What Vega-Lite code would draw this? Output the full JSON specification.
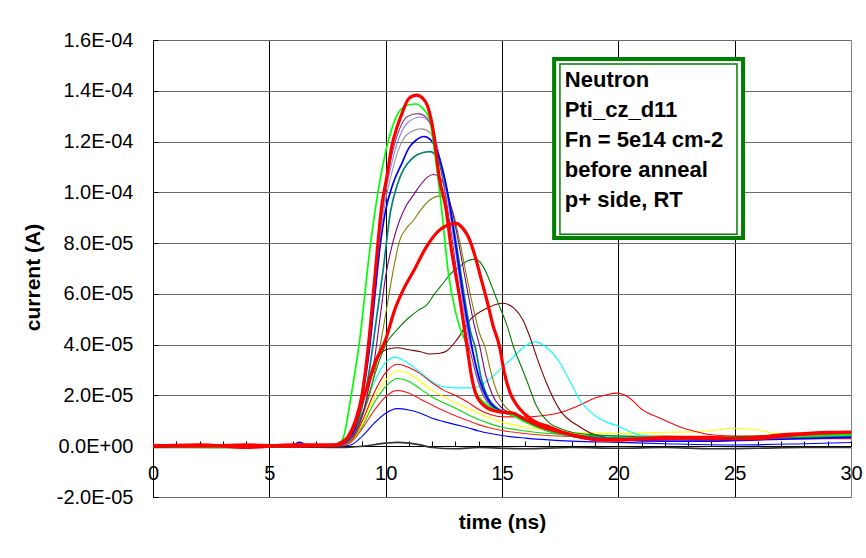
{
"$schema": "https://vega.github.io/schema/vega-lite/v6.json",
"width": 698, "height": 457,
"autosize": {"type": "none"},
"padding": {"left": 153, "top": 40, "right": 15, "bottom": 61},
"background": "white",
"config": {"view": {"stroke": "#808080", "strokeWidth": 1}, "font": "Liberation Sans"},
"resolve": {"axis": {"x": "independent", "y": "independent"}},
"datasets": {"curves": [
{"s":"k","t":0,"v":-0.05e-5},{"s":"k","t":3,"v":-0.05e-5},{"s":"k","t":6,"v":-0.03e-5},{"s":"k","t":8,"v":-0.05e-5},{"s":"k","t":9,"v":0},{"s":"k","t":10,"v":0.12e-5},{"s":"k","t":10.5,"v":0.15e-5},{"s":"k","t":11,"v":0.12e-5},{"s":"k","t":11.5,"v":0.05e-5},{"s":"k","t":12,"v":-0.05e-5},{"s":"k","t":13,"v":-0.1e-5},{"s":"k","t":14,"v":-0.05e-5},{"s":"k","t":15,"v":-0.08e-5},{"s":"k","t":16,"v":-0.1e-5},{"s":"k","t":18,"v":-0.05e-5},{"s":"k","t":20,"v":-0.08e-5},{"s":"k","t":22,"v":-0.05e-5},{"s":"k","t":24,"v":-0.1e-5},{"s":"k","t":26,"v":-0.08e-5},{"s":"k","t":28,"v":-0.05e-5},{"s":"k","t":30,"v":-0.05e-5},
{"s":"b2","t":0,"v":0},{"s":"b2","t":4,"v":0},{"s":"b2","t":6,"v":0.05e-5},{"s":"b2","t":8,"v":0},{"s":"b2","t":8.5,"v":0.05e-5},{"s":"b2","t":9,"v":0.4e-5},{"s":"b2","t":9.5,"v":0.9e-5},{"s":"b2","t":10,"v":1.3e-5},{"s":"b2","t":10.5,"v":1.48e-5},{"s":"b2","t":11,"v":1.43e-5},{"s":"b2","t":11.5,"v":1.3e-5},{"s":"b2","t":12,"v":1.1e-5},{"s":"b2","t":12.5,"v":0.97e-5},{"s":"b2","t":13,"v":0.85e-5},{"s":"b2","t":13.5,"v":0.74e-5},{"s":"b2","t":14,"v":0.6e-5},{"s":"b2","t":14.5,"v":0.5e-5},{"s":"b2","t":15,"v":0.42e-5},{"s":"b2","t":16,"v":0.32e-5},{"s":"b2","t":17,"v":0.25e-5},{"s":"b2","t":18,"v":0.2e-5},{"s":"b2","t":20,"v":0.15e-5},{"s":"b2","t":22,"v":0.1e-5},{"s":"b2","t":25,"v":0.05e-5},{"s":"b2","t":28,"v":0.1e-5},{"s":"b2","t":30,"v":0.15e-5},
{"s":"r4","t":0,"v":-0.05e-5},{"s":"r4","t":4,"v":0},{"s":"r4","t":8,"v":0},{"s":"r4","t":8.5,"v":0.15e-5},{"s":"r4","t":9,"v":0.7e-5},{"s":"r4","t":9.5,"v":1.4e-5},{"s":"r4","t":10,"v":1.95e-5},{"s":"r4","t":10.5,"v":2.2e-5},{"s":"r4","t":11,"v":2.1e-5},{"s":"r4","t":11.5,"v":1.85e-5},{"s":"r4","t":12,"v":1.62e-5},{"s":"r4","t":12.5,"v":1.4e-5},{"s":"r4","t":13,"v":1.2e-5},{"s":"r4","t":13.5,"v":1.02e-5},{"s":"r4","t":14,"v":0.85e-5},{"s":"r4","t":14.5,"v":0.72e-5},{"s":"r4","t":15,"v":0.62e-5},{"s":"r4","t":16,"v":0.5e-5},{"s":"r4","t":17,"v":0.42e-5},{"s":"r4","t":18,"v":0.38e-5},{"s":"r4","t":20,"v":0.3e-5},{"s":"r4","t":22,"v":0.28e-5},{"s":"r4","t":24,"v":0.25e-5},{"s":"r4","t":26,"v":0.3e-5},{"s":"r4","t":28,"v":0.3e-5},{"s":"r4","t":30,"v":0.3e-5},
{"s":"g3","t":0,"v":-0.03e-5},{"s":"g3","t":4,"v":0},{"s":"g3","t":7.8,"v":0},{"s":"g3","t":8.1,"v":0.05e-5},{"s":"g3","t":8.5,"v":0.2e-5},{"s":"g3","t":9,"v":0.8e-5},{"s":"g3","t":9.5,"v":1.7e-5},{"s":"g3","t":10,"v":2.35e-5},{"s":"g3","t":10.5,"v":2.67e-5},{"s":"g3","t":11,"v":2.55e-5},{"s":"g3","t":11.5,"v":2.25e-5},{"s":"g3","t":12,"v":1.94e-5},{"s":"g3","t":12.5,"v":1.7e-5},{"s":"g3","t":13,"v":1.5e-5},{"s":"g3","t":13.5,"v":1.26e-5},{"s":"g3","t":14,"v":1.05e-5},{"s":"g3","t":14.5,"v":0.88e-5},{"s":"g3","t":15,"v":0.75e-5},{"s":"g3","t":16,"v":0.6e-5},{"s":"g3","t":17,"v":0.5e-5},{"s":"g3","t":18,"v":0.45e-5},{"s":"g3","t":20,"v":0.4e-5},{"s":"g3","t":22,"v":0.4e-5},{"s":"g3","t":24,"v":0.35e-5},{"s":"g3","t":26,"v":0.35e-5},{"s":"g3","t":28,"v":0.4e-5},{"s":"g3","t":30,"v":0.45e-5},
{"s":"y","t":0,"v":-0.05e-5},{"s":"y","t":4,"v":-0.05e-5},{"s":"y","t":7.8,"v":0},{"s":"y","t":8.1,"v":0.05e-5},{"s":"y","t":8.5,"v":0.2e-5},{"s":"y","t":9,"v":0.9e-5},{"s":"y","t":9.5,"v":1.9e-5},{"s":"y","t":10,"v":2.6e-5},{"s":"y","t":10.5,"v":2.97e-5},{"s":"y","t":11,"v":2.85e-5},{"s":"y","t":11.5,"v":2.55e-5},{"s":"y","t":12,"v":2.2e-5},{"s":"y","t":12.5,"v":1.95e-5},{"s":"y","t":13,"v":1.7e-5},{"s":"y","t":13.5,"v":1.5e-5},{"s":"y","t":14,"v":1.3e-5},{"s":"y","t":14.5,"v":1.1e-5},{"s":"y","t":15,"v":0.95e-5},{"s":"y","t":16,"v":0.75e-5},{"s":"y","t":17,"v":0.62e-5},{"s":"y","t":18,"v":0.55e-5},{"s":"y","t":19,"v":0.52e-5},{"s":"y","t":20,"v":0.5e-5},{"s":"y","t":21,"v":0.52e-5},{"s":"y","t":22,"v":0.55e-5},{"s":"y","t":23,"v":0.56e-5},{"s":"y","t":24,"v":0.62e-5},{"s":"y","t":25,"v":0.71e-5},{"s":"y","t":26,"v":0.65e-5},{"s":"y","t":26.6,"v":0.52e-5},{"s":"y","t":27.5,"v":0.45e-5},{"s":"y","t":28.5,"v":0.45e-5},{"s":"y","t":30,"v":0.5e-5},
{"s":"r3","t":0,"v":0},{"s":"r3","t":4,"v":0.03e-5},{"s":"r3","t":7.8,"v":0},{"s":"r3","t":8.1,"v":0.05e-5},{"s":"r3","t":8.5,"v":0.2e-5},{"s":"r3","t":9,"v":1.0e-5},{"s":"r3","t":9.5,"v":2.1e-5},{"s":"r3","t":10,"v":2.9e-5},{"s":"r3","t":10.5,"v":3.23e-5},{"s":"r3","t":11,"v":3.1e-5},{"s":"r3","t":11.5,"v":2.85e-5},{"s":"r3","t":12,"v":2.5e-5},{"s":"r3","t":12.5,"v":2.2e-5},{"s":"r3","t":13,"v":2.0e-5},{"s":"r3","t":13.5,"v":1.75e-5},{"s":"r3","t":14,"v":1.45e-5},{"s":"r3","t":14.5,"v":1.25e-5},{"s":"r3","t":15,"v":1.16e-5},{"s":"r3","t":16,"v":1.15e-5},{"s":"r3","t":16.9,"v":1.22e-5},{"s":"r3","t":17.6,"v":1.35e-5},{"s":"r3","t":18.35,"v":1.62e-5},{"s":"r3","t":19,"v":1.9e-5},{"s":"r3","t":19.5,"v":2.03e-5},{"s":"r3","t":19.93,"v":2.09e-5},{"s":"r3","t":20.4,"v":1.95e-5},{"s":"r3","t":21.06,"v":1.42e-5},{"s":"r3","t":21.8,"v":1.1e-5},{"s":"r3","t":22.65,"v":0.76e-5},{"s":"r3","t":23.4,"v":0.56e-5},{"s":"r3","t":24,"v":0.45e-5},{"s":"r3","t":25,"v":0.4e-5},{"s":"r3","t":26,"v":0.4e-5},{"s":"r3","t":27,"v":0.38e-5},{"s":"r3","t":28,"v":0.35e-5},{"s":"r3","t":30,"v":0.35e-5},
{"s":"c","t":0,"v":0},{"s":"c","t":4,"v":0},{"s":"c","t":7.8,"v":0},{"s":"c","t":8.1,"v":0.05e-5},{"s":"c","t":8.5,"v":0.3e-5},{"s":"c","t":9,"v":1.3e-5},{"s":"c","t":9.5,"v":2.5e-5},{"s":"c","t":10,"v":3.3e-5},{"s":"c","t":10.4,"v":3.5e-5},{"s":"c","t":11,"v":3.25e-5},{"s":"c","t":11.5,"v":2.9e-5},{"s":"c","t":12,"v":2.55e-5},{"s":"c","t":12.46,"v":2.34e-5},{"s":"c","t":13,"v":2.3e-5},{"s":"c","t":13.5,"v":2.3e-5},{"s":"c","t":13.9,"v":2.32e-5},{"s":"c","t":14.4,"v":2.6e-5},{"s":"c","t":14.9,"v":3.0e-5},{"s":"c","t":15.47,"v":3.5e-5},{"s":"c","t":16,"v":3.95e-5},{"s":"c","t":16.42,"v":4.11e-5},{"s":"c","t":16.9,"v":3.9e-5},{"s":"c","t":17.5,"v":3.27e-5},{"s":"c","t":17.9,"v":2.6e-5},{"s":"c","t":18.35,"v":1.81e-5},{"s":"c","t":19.07,"v":1.16e-5},{"s":"c","t":20.07,"v":0.76e-5},{"s":"c","t":20.8,"v":0.47e-5},{"s":"c","t":21.5,"v":0.38e-5},{"s":"c","t":22,"v":0.35e-5},{"s":"c","t":24,"v":0.32e-5},{"s":"c","t":26,"v":0.3e-5},{"s":"c","t":28,"v":0.35e-5},{"s":"c","t":30,"v":0.4e-5},
{"s":"m","t":0,"v":0},{"s":"m","t":4,"v":0},{"s":"m","t":7.8,"v":0},{"s":"m","t":8.1,"v":0.05e-5},{"s":"m","t":8.5,"v":0.4e-5},{"s":"m","t":9,"v":1.8e-5},{"s":"m","t":9.5,"v":3.0e-5},{"s":"m","t":9.75,"v":3.6e-5},{"s":"m","t":10,"v":3.8e-5},{"s":"m","t":10.5,"v":3.88e-5},{"s":"m","t":11,"v":3.8e-5},{"s":"m","t":11.5,"v":3.72e-5},{"s":"m","t":11.9,"v":3.63e-5},{"s":"m","t":12.33,"v":3.66e-5},{"s":"m","t":12.62,"v":3.75e-5},{"s":"m","t":13.05,"v":4.18e-5},{"s":"m","t":13.62,"v":4.97e-5},{"s":"m","t":14.34,"v":5.43e-5},{"s":"m","t":15.04,"v":5.63e-5},{"s":"m","t":15.5,"v":5.45e-5},{"s":"m","t":15.9,"v":4.97e-5},{"s":"m","t":16.2,"v":4.3e-5},{"s":"m","t":16.49,"v":3.52e-5},{"s":"m","t":16.92,"v":2.47e-5},{"s":"m","t":17.49,"v":1.42e-5},{"s":"m","t":18.35,"v":0.76e-5},{"s":"m","t":19.07,"v":0.43e-5},{"s":"m","t":20,"v":0.3e-5},{"s":"m","t":22,"v":0.3e-5},{"s":"m","t":24,"v":0.28e-5},{"s":"m","t":26,"v":0.3e-5},{"s":"m","t":28,"v":0.35e-5},{"s":"m","t":30,"v":0.4e-5},
{"s":"g2","t":0,"v":0},{"s":"g2","t":4,"v":0},{"s":"g2","t":7.8,"v":0},{"s":"g2","t":8.1,"v":0.05e-5},{"s":"g2","t":8.4,"v":0.25e-5},{"s":"g2","t":8.75,"v":0.76e-5},{"s":"g2","t":9,"v":1.3e-5},{"s":"g2","t":9.33,"v":2.2e-5},{"s":"g2","t":9.7,"v":3.3e-5},{"s":"g2","t":10,"v":4.0e-5},{"s":"g2","t":10.5,"v":4.6e-5},{"s":"g2","t":11.04,"v":5.1e-5},{"s":"g2","t":11.4,"v":5.35e-5},{"s":"g2","t":11.76,"v":5.56e-5},{"s":"g2","t":12.1,"v":6.0e-5},{"s":"g2","t":12.47,"v":6.42e-5},{"s":"g2","t":12.8,"v":6.8e-5},{"s":"g2","t":13.19,"v":7.07e-5},{"s":"g2","t":13.5,"v":7.3e-5},{"s":"g2","t":13.84,"v":7.37e-5},{"s":"g2","t":14.1,"v":7.2e-5},{"s":"g2","t":14.34,"v":6.8e-5},{"s":"g2","t":14.6,"v":6.2e-5},{"s":"g2","t":14.9,"v":5.49e-5},{"s":"g2","t":15.2,"v":4.8e-5},{"s":"g2","t":15.5,"v":3.9e-5},{"s":"g2","t":15.8,"v":3.2e-5},{"s":"g2","t":16.06,"v":2.6e-5},{"s":"g2","t":16.5,"v":1.55e-5},{"s":"g2","t":17.06,"v":0.9e-5},{"s":"g2","t":17.5,"v":0.7e-5},{"s":"g2","t":18,"v":0.55e-5},{"s":"g2","t":19,"v":0.45e-5},{"s":"g2","t":20,"v":0.4e-5},{"s":"g2","t":22,"v":0.35e-5},{"s":"g2","t":24,"v":0.35e-5},{"s":"g2","t":26,"v":0.4e-5},{"s":"g2","t":28,"v":0.45e-5},{"s":"g2","t":30,"v":0.5e-5},
{"s":"o","t":0,"v":0},{"s":"o","t":4,"v":-0.03e-5},{"s":"o","t":7.8,"v":0},{"s":"o","t":8.1,"v":0.05e-5},{"s":"o","t":8.4,"v":0.15e-5},{"s":"o","t":8.7,"v":0.5e-5},{"s":"o","t":9,"v":1.2e-5},{"s":"o","t":9.3,"v":2.0e-5},{"s":"o","t":9.5,"v":2.8e-5},{"s":"o","t":9.75,"v":3.9e-5},{"s":"o","t":10,"v":5.2e-5},{"s":"o","t":10.3,"v":6.8e-5},{"s":"o","t":10.6,"v":8.1e-5},{"s":"o","t":10.9,"v":8.6e-5},{"s":"o","t":11.2,"v":8.9e-5},{"s":"o","t":11.5,"v":9.3e-5},{"s":"o","t":11.9,"v":9.7e-5},{"s":"o","t":12.3,"v":9.85e-5},{"s":"o","t":12.6,"v":9.8e-5},{"s":"o","t":12.9,"v":9.2e-5},{"s":"o","t":13.2,"v":8.0e-5},{"s":"o","t":13.5,"v":6.6e-5},{"s":"o","t":13.8,"v":5.3e-5},{"s":"o","t":14.05,"v":4.4e-5},{"s":"o","t":14.27,"v":3.9e-5},{"s":"o","t":14.5,"v":3.0e-5},{"s":"o","t":14.8,"v":2.1e-5},{"s":"o","t":15.1,"v":1.6e-5},{"s":"o","t":15.4,"v":1.35e-5},{"s":"o","t":15.8,"v":1.2e-5},{"s":"o","t":16.3,"v":0.95e-5},{"s":"o","t":17,"v":0.7e-5},{"s":"o","t":18,"v":0.45e-5},{"s":"o","t":19,"v":0.35e-5},{"s":"o","t":20,"v":0.3e-5},{"s":"o","t":22,"v":0.3e-5},{"s":"o","t":24,"v":0.32e-5},{"s":"o","t":26,"v":0.3e-5},{"s":"o","t":28,"v":0.35e-5},{"s":"o","t":30,"v":0.4e-5},
{"s":"p2","t":0,"v":0},{"s":"p2","t":4,"v":0},{"s":"p2","t":7.8,"v":0},{"s":"p2","t":8.1,"v":0.05e-5},{"s":"p2","t":8.4,"v":0.2e-5},{"s":"p2","t":8.7,"v":0.55e-5},{"s":"p2","t":9,"v":1.2e-5},{"s":"p2","t":9.25,"v":2.2e-5},{"s":"p2","t":9.5,"v":3.3e-5},{"s":"p2","t":9.75,"v":5.0e-5},{"s":"p2","t":10,"v":6.7e-5},{"s":"p2","t":10.3,"v":8.0e-5},{"s":"p2","t":10.6,"v":8.9e-5},{"s":"p2","t":10.9,"v":9.5e-5},{"s":"p2","t":11.2,"v":9.9e-5},{"s":"p2","t":11.5,"v":10.3e-5},{"s":"p2","t":11.8,"v":10.6e-5},{"s":"p2","t":12.05,"v":10.7e-5},{"s":"p2","t":12.3,"v":10.6e-5},{"s":"p2","t":12.6,"v":10.1e-5},{"s":"p2","t":12.9,"v":9.1e-5},{"s":"p2","t":13.2,"v":7.7e-5},{"s":"p2","t":13.5,"v":6.2e-5},{"s":"p2","t":13.8,"v":4.8e-5},{"s":"p2","t":14.05,"v":3.9e-5},{"s":"p2","t":14.3,"v":2.8e-5},{"s":"p2","t":14.6,"v":2.0e-5},{"s":"p2","t":15,"v":1.5e-5},{"s":"p2","t":15.4,"v":1.3e-5},{"s":"p2","t":15.8,"v":1.15e-5},{"s":"p2","t":16.3,"v":0.95e-5},{"s":"p2","t":17,"v":0.68e-5},{"s":"p2","t":18,"v":0.45e-5},{"s":"p2","t":20,"v":0.32e-5},{"s":"p2","t":22,"v":0.3e-5},{"s":"p2","t":24,"v":0.3e-5},{"s":"p2","t":26,"v":0.32e-5},{"s":"p2","t":28,"v":0.4e-5},{"s":"p2","t":30,"v":0.45e-5},
{"s":"tl","t":0,"v":0},{"s":"tl","t":4,"v":0},{"s":"tl","t":7.8,"v":0},{"s":"tl","t":8.1,"v":0.08e-5},{"s":"tl","t":8.4,"v":0.25e-5},{"s":"tl","t":8.7,"v":0.7e-5},{"s":"tl","t":9,"v":1.6e-5},{"s":"tl","t":9.3,"v":3.0e-5},{"s":"tl","t":9.6,"v":5.0e-5},{"s":"tl","t":9.9,"v":7.0e-5},{"s":"tl","t":10.2,"v":9.2e-5},{"s":"tl","t":10.5,"v":10.3e-5},{"s":"tl","t":10.8,"v":10.95e-5},{"s":"tl","t":11.1,"v":11.3e-5},{"s":"tl","t":11.4,"v":11.5e-5},{"s":"tl","t":11.9,"v":11.6e-5},{"s":"tl","t":12.2,"v":11.4e-5},{"s":"tl","t":12.5,"v":10.6e-5},{"s":"tl","t":12.8,"v":9.3e-5},{"s":"tl","t":13.1,"v":7.6e-5},{"s":"tl","t":13.4,"v":5.8e-5},{"s":"tl","t":13.65,"v":4.5e-5},{"s":"tl","t":13.85,"v":3.9e-5},{"s":"tl","t":14.1,"v":2.7e-5},{"s":"tl","t":14.4,"v":1.9e-5},{"s":"tl","t":14.8,"v":1.5e-5},{"s":"tl","t":15.2,"v":1.3e-5},{"s":"tl","t":15.6,"v":1.2e-5},{"s":"tl","t":16,"v":1.02e-5},{"s":"tl","t":17,"v":0.65e-5},{"s":"tl","t":18,"v":0.45e-5},{"s":"tl","t":20,"v":0.32e-5},{"s":"tl","t":22,"v":0.3e-5},{"s":"tl","t":24,"v":0.3e-5},{"s":"tl","t":26,"v":0.32e-5},{"s":"tl","t":28,"v":0.38e-5},{"s":"tl","t":30,"v":0.42e-5},
{"s":"gr","t":0,"v":0},{"s":"gr","t":4,"v":0},{"s":"gr","t":7.8,"v":0},{"s":"gr","t":8.1,"v":0.1e-5},{"s":"gr","t":8.4,"v":0.3e-5},{"s":"gr","t":8.7,"v":0.8e-5},{"s":"gr","t":9,"v":2.1e-5},{"s":"gr","t":9.3,"v":4.0e-5},{"s":"gr","t":9.5,"v":5.9e-5},{"s":"gr","t":9.75,"v":8.2e-5},{"s":"gr","t":10,"v":9.7e-5},{"s":"gr","t":10.3,"v":10.9e-5},{"s":"gr","t":10.6,"v":11.8e-5},{"s":"gr","t":10.95,"v":12.3e-5},{"s":"gr","t":11.55,"v":12.5e-5},{"s":"gr","t":11.9,"v":12.35e-5},{"s":"gr","t":12.2,"v":11.8e-5},{"s":"gr","t":12.45,"v":10.8e-5},{"s":"gr","t":12.7,"v":9.6e-5},{"s":"gr","t":13,"v":7.8e-5},{"s":"gr","t":13.3,"v":5.9e-5},{"s":"gr","t":13.6,"v":4.2e-5},{"s":"gr","t":13.8,"v":3.5e-5},{"s":"gr","t":14,"v":2.6e-5},{"s":"gr","t":14.3,"v":1.9e-5},{"s":"gr","t":14.6,"v":1.55e-5},{"s":"gr","t":15,"v":1.35e-5},{"s":"gr","t":15.5,"v":1.2e-5},{"s":"gr","t":16,"v":0.97e-5},{"s":"gr","t":17,"v":0.6e-5},{"s":"gr","t":18,"v":0.4e-5},{"s":"gr","t":20,"v":0.3e-5},{"s":"gr","t":22,"v":0.28e-5},{"s":"gr","t":24,"v":0.3e-5},{"s":"gr","t":26,"v":0.3e-5},{"s":"gr","t":28,"v":0.35e-5},{"s":"gr","t":30,"v":0.4e-5},
{"s":"lv","t":0,"v":0},{"s":"lv","t":4,"v":0.03e-5},{"s":"lv","t":7.8,"v":0},{"s":"lv","t":8.1,"v":0.1e-5},{"s":"lv","t":8.4,"v":0.33e-5},{"s":"lv","t":8.7,"v":0.85e-5},{"s":"lv","t":9,"v":2.2e-5},{"s":"lv","t":9.3,"v":4.2e-5},{"s":"lv","t":9.5,"v":6.1e-5},{"s":"lv","t":9.75,"v":8.4e-5},{"s":"lv","t":10,"v":10.0e-5},{"s":"lv","t":10.3,"v":11.3e-5},{"s":"lv","t":10.6,"v":12.2e-5},{"s":"lv","t":10.95,"v":12.75e-5},{"s":"lv","t":11.5,"v":12.97e-5},{"s":"lv","t":11.85,"v":12.8e-5},{"s":"lv","t":12.15,"v":12.1e-5},{"s":"lv","t":12.4,"v":11.0e-5},{"s":"lv","t":12.65,"v":9.8e-5},{"s":"lv","t":12.95,"v":8.0e-5},{"s":"lv","t":13.25,"v":6.1e-5},{"s":"lv","t":13.55,"v":4.3e-5},{"s":"lv","t":13.75,"v":3.6e-5},{"s":"lv","t":14,"v":2.6e-5},{"s":"lv","t":14.3,"v":1.9e-5},{"s":"lv","t":14.6,"v":1.55e-5},{"s":"lv","t":15,"v":1.35e-5},{"s":"lv","t":15.5,"v":1.22e-5},{"s":"lv","t":16,"v":0.98e-5},{"s":"lv","t":17,"v":0.62e-5},{"s":"lv","t":18,"v":0.42e-5},{"s":"lv","t":20,"v":0.32e-5},{"s":"lv","t":22,"v":0.3e-5},{"s":"lv","t":24,"v":0.3e-5},{"s":"lv","t":26,"v":0.32e-5},{"s":"lv","t":28,"v":0.4e-5},{"s":"lv","t":30,"v":0.45e-5},
{"s":"p1","t":0,"v":0},{"s":"p1","t":4,"v":0},{"s":"p1","t":7.8,"v":0},{"s":"p1","t":8.1,"v":0.1e-5},{"s":"p1","t":8.4,"v":0.35e-5},{"s":"p1","t":8.7,"v":0.9e-5},{"s":"p1","t":9,"v":2.3e-5},{"s":"p1","t":9.3,"v":4.4e-5},{"s":"p1","t":9.5,"v":6.3e-5},{"s":"p1","t":9.75,"v":8.6e-5},{"s":"p1","t":10,"v":10.2e-5},{"s":"p1","t":10.3,"v":11.6e-5},{"s":"p1","t":10.6,"v":12.5e-5},{"s":"p1","t":10.95,"v":13.0e-5},{"s":"p1","t":11.4,"v":13.1e-5},{"s":"p1","t":11.75,"v":12.95e-5},{"s":"p1","t":12.05,"v":12.3e-5},{"s":"p1","t":12.3,"v":11.2e-5},{"s":"p1","t":12.55,"v":10.0e-5},{"s":"p1","t":12.85,"v":8.2e-5},{"s":"p1","t":13.15,"v":6.2e-5},{"s":"p1","t":13.45,"v":4.4e-5},{"s":"p1","t":13.7,"v":3.5e-5},{"s":"p1","t":13.95,"v":2.6e-5},{"s":"p1","t":14.25,"v":1.9e-5},{"s":"p1","t":14.6,"v":1.55e-5},{"s":"p1","t":15,"v":1.35e-5},{"s":"p1","t":15.5,"v":1.2e-5},{"s":"p1","t":16,"v":0.95e-5},{"s":"p1","t":17,"v":0.6e-5},{"s":"p1","t":18,"v":0.42e-5},{"s":"p1","t":20,"v":0.3e-5},{"s":"p1","t":22,"v":0.3e-5},{"s":"p1","t":24,"v":0.28e-5},{"s":"p1","t":26,"v":0.3e-5},{"s":"p1","t":28,"v":0.38e-5},{"s":"p1","t":30,"v":0.42e-5},
{"s":"b1","t":0,"v":0},{"s":"b1","t":4,"v":0},{"s":"b1","t":6,"v":0.05e-5},{"s":"b1","t":6.3,"v":0.15e-5},{"s":"b1","t":6.6,"v":0.05e-5},{"s":"b1","t":7.8,"v":0},{"s":"b1","t":8.1,"v":0.1e-5},{"s":"b1","t":8.4,"v":0.3e-5},{"s":"b1","t":8.7,"v":0.75e-5},{"s":"b1","t":9,"v":2.0e-5},{"s":"b1","t":9.3,"v":3.8e-5},{"s":"b1","t":9.5,"v":5.6e-5},{"s":"b1","t":9.75,"v":7.8e-5},{"s":"b1","t":10,"v":9.3e-5},{"s":"b1","t":10.3,"v":10.3e-5},{"s":"b1","t":10.7,"v":11.15e-5},{"s":"b1","t":11,"v":11.75e-5},{"s":"b1","t":11.3,"v":12.05e-5},{"s":"b1","t":11.65,"v":12.2e-5},{"s":"b1","t":11.95,"v":12.05e-5},{"s":"b1","t":12.2,"v":11.65e-5},{"s":"b1","t":12.45,"v":10.9e-5},{"s":"b1","t":12.7,"v":9.8e-5},{"s":"b1","t":13,"v":8.0e-5},{"s":"b1","t":13.3,"v":6.1e-5},{"s":"b1","t":13.55,"v":4.7e-5},{"s":"b1","t":13.8,"v":3.5e-5},{"s":"b1","t":14.05,"v":2.6e-5},{"s":"b1","t":14.3,"v":2.0e-5},{"s":"b1","t":14.6,"v":1.6e-5},{"s":"b1","t":15,"v":1.35e-5},{"s":"b1","t":15.4,"v":1.25e-5},{"s":"b1","t":16,"v":1.0e-5},{"s":"b1","t":17,"v":0.6e-5},{"s":"b1","t":18,"v":0.4e-5},{"s":"b1","t":20,"v":0.25e-5},{"s":"b1","t":22,"v":0.2e-5},{"s":"b1","t":24,"v":0.2e-5},{"s":"b1","t":26,"v":0.25e-5},{"s":"b1","t":28,"v":0.3e-5},{"s":"b1","t":30,"v":0.35e-5},
{"s":"g1","t":0,"v":0},{"s":"g1","t":3,"v":-0.05e-5},{"s":"g1","t":6,"v":0},{"s":"g1","t":7.5,"v":0},{"s":"g1","t":8,"v":0.1e-5},{"s":"g1","t":8.2,"v":0.4e-5},{"s":"g1","t":8.5,"v":1.9e-5},{"s":"g1","t":8.9,"v":4.3e-5},{"s":"g1","t":9.3,"v":7.6e-5},{"s":"g1","t":9.6,"v":9.6e-5},{"s":"g1","t":10,"v":11.6e-5},{"s":"g1","t":10.3,"v":12.6e-5},{"s":"g1","t":10.6,"v":13.2e-5},{"s":"g1","t":11,"v":13.45e-5},{"s":"g1","t":11.3,"v":13.48e-5},{"s":"g1","t":11.6,"v":13.3e-5},{"s":"g1","t":11.9,"v":12.85e-5},{"s":"g1","t":12.1,"v":11.6e-5},{"s":"g1","t":12.35,"v":9.8e-5},{"s":"g1","t":12.7,"v":6.8e-5},{"s":"g1","t":13,"v":5.3e-5},{"s":"g1","t":13.25,"v":4.5e-5},{"s":"g1","t":13.5,"v":3.9e-5},{"s":"g1","t":13.65,"v":2.9e-5},{"s":"g1","t":13.9,"v":2.1e-5},{"s":"g1","t":14.2,"v":1.75e-5},{"s":"g1","t":14.6,"v":1.5e-5},{"s":"g1","t":15,"v":1.35e-5},{"s":"g1","t":15.5,"v":1.2e-5},{"s":"g1","t":16,"v":0.95e-5},{"s":"g1","t":16.5,"v":0.75e-5},{"s":"g1","t":17,"v":0.6e-5},{"s":"g1","t":18,"v":0.4e-5},{"s":"g1","t":19,"v":0.3e-5},{"s":"g1","t":20,"v":0.28e-5},{"s":"g1","t":22,"v":0.3e-5},{"s":"g1","t":24,"v":0.3e-5},{"s":"g1","t":26,"v":0.35e-5},{"s":"g1","t":28,"v":0.4e-5},{"s":"g1","t":30,"v":0.45e-5},
{"s":"r2","t":0,"v":0.03e-5},{"s":"r2","t":2,"v":0},{"s":"r2","t":4,"v":0.05e-5},{"s":"r2","t":6,"v":0},{"s":"r2","t":7.8,"v":0.03e-5},{"s":"r2","t":8.1,"v":0.1e-5},{"s":"r2","t":8.4,"v":0.35e-5},{"s":"r2","t":8.7,"v":0.9e-5},{"s":"r2","t":9,"v":1.8e-5},{"s":"r2","t":9.2,"v":2.3e-5},{"s":"r2","t":9.5,"v":3.2e-5},{"s":"r2","t":10,"v":4.2e-5},{"s":"r2","t":10.4,"v":5.4e-5},{"s":"r2","t":10.75,"v":6.15e-5},{"s":"r2","t":11.2,"v":6.9e-5},{"s":"r2","t":11.75,"v":7.85e-5},{"s":"r2","t":12.3,"v":8.5e-5},{"s":"r2","t":12.7,"v":8.72e-5},{"s":"r2","t":13.05,"v":8.78e-5},{"s":"r2","t":13.3,"v":8.6e-5},{"s":"r2","t":13.55,"v":8.25e-5},{"s":"r2","t":13.9,"v":7.3e-5},{"s":"r2","t":14.1,"v":6.6e-5},{"s":"r2","t":14.35,"v":5.75e-5},{"s":"r2","t":14.6,"v":4.8e-5},{"s":"r2","t":14.9,"v":3.9e-5},{"s":"r2","t":15.1,"v":2.9e-5},{"s":"r2","t":15.35,"v":2.1e-5},{"s":"r2","t":15.65,"v":1.6e-5},{"s":"r2","t":16,"v":1.25e-5},{"s":"r2","t":16.35,"v":1.0e-5},{"s":"r2","t":17.05,"v":0.76e-5},{"s":"r2","t":17.6,"v":0.55e-5},{"s":"r2","t":18.5,"v":0.33e-5},{"s":"r2","t":19.5,"v":0.25e-5},{"s":"r2","t":20,"v":0.25e-5},{"s":"r2","t":21,"v":0.28e-5},{"s":"r2","t":22,"v":0.3e-5},{"s":"r2","t":23,"v":0.32e-5},{"s":"r2","t":24,"v":0.3e-5},{"s":"r2","t":25,"v":0.3e-5},{"s":"r2","t":26,"v":0.3e-5},{"s":"r2","t":27,"v":0.4e-5},{"s":"r2","t":28,"v":0.48e-5},{"s":"r2","t":29,"v":0.52e-5},{"s":"r2","t":30,"v":0.55e-5},
{"s":"r1","t":0,"v":0},{"s":"r1","t":2,"v":0.05e-5},{"s":"r1","t":4,"v":-0.05e-5},{"s":"r1","t":6,"v":0.05e-5},{"s":"r1","t":7,"v":0.05e-5},{"s":"r1","t":7.8,"v":0.05e-5},{"s":"r1","t":8.1,"v":0.15e-5},{"s":"r1","t":8.4,"v":0.4e-5},{"s":"r1","t":8.7,"v":1.0e-5},{"s":"r1","t":9,"v":2.1e-5},{"s":"r1","t":9.25,"v":3.9e-5},{"s":"r1","t":9.5,"v":6.3e-5},{"s":"r1","t":9.85,"v":9.6e-5},{"s":"r1","t":10.05,"v":10.6e-5},{"s":"r1","t":10.26,"v":11.8e-5},{"s":"r1","t":10.5,"v":12.6e-5},{"s":"r1","t":10.7,"v":13.1e-5},{"s":"r1","t":11,"v":13.7e-5},{"s":"r1","t":11.33,"v":13.83e-5},{"s":"r1","t":11.6,"v":13.7e-5},{"s":"r1","t":11.8,"v":13.4e-5},{"s":"r1","t":12.05,"v":12.4e-5},{"s":"r1","t":12.3,"v":10.6e-5},{"s":"r1","t":12.6,"v":9.3e-5},{"s":"r1","t":12.8,"v":7.9e-5},{"s":"r1","t":13.2,"v":5.75e-5},{"s":"r1","t":13.5,"v":3.9e-5},{"s":"r1","t":13.7,"v":2.7e-5},{"s":"r1","t":13.9,"v":2.0e-5},{"s":"r1","t":14.3,"v":1.55e-5},{"s":"r1","t":14.9,"v":1.35e-5},{"s":"r1","t":15.5,"v":1.3e-5},{"s":"r1","t":15.8,"v":1.15e-5},{"s":"r1","t":16.3,"v":0.92e-5},{"s":"r1","t":16.7,"v":0.76e-5},{"s":"r1","t":17.3,"v":0.6e-5},{"s":"r1","t":17.8,"v":0.5e-5},{"s":"r1","t":18.5,"v":0.35e-5},{"s":"r1","t":19.2,"v":0.25e-5},{"s":"r1","t":20,"v":0.25e-5},{"s":"r1","t":21,"v":0.3e-5},{"s":"r1","t":22,"v":0.35e-5},{"s":"r1","t":23,"v":0.35e-5},{"s":"r1","t":24,"v":0.35e-5},{"s":"r1","t":25,"v":0.3e-5},{"s":"r1","t":26,"v":0.35e-5},{"s":"r1","t":27,"v":0.45e-5},{"s":"r1","t":28,"v":0.5e-5},{"s":"r1","t":29,"v":0.55e-5},{"s":"r1","t":30,"v":0.55e-5}
]},
"layer": [
{
"data": {"name": "curves"},
"transform": [{"filter": {"field": "s", "oneOf": ["b2","r4","g3","y","r3","c","m","g2","o","p2","gr","lv","p1"]}}],
"mark": {"type": "line", "interpolate": "monotone", "clip": true, "strokeWidth": 1.1},
"encoding": {
"x": {"field": "t", "type": "quantitative", "scale": {"domain": [0, 30], "nice": false},
 "axis": {"values": [0,1,2,3,4,5,6,7,8,9,10,11,12,13,14,15,16,17,18,19,20,21,22,23,24,25,26,27,28,29,30],
  "offset": -51, "domainColor": "black", "tickColor": "black", "tickSize": -5,
  "labelExpr": "datum.value % 5 === 0 ? datum.label : ''", "labelFlush": false, "labelOverlap": false,
  "labelFont": "Liberation Sans", "labelFontSize": 20, "labelColor": "black", "labelPadding": 22,
  "grid": true, "gridColor": "black",
  "gridOpacity": {"condition": {"test": "datum.value % 5 === 0 && datum.value > 0 && datum.value < 30", "value": 1}, "value": 0},
  "title": "time (ns)", "titleFont": "Liberation Sans", "titleFontSize": 21, "titleFontWeight": "bold", "titleColor": "black",
  "titleY": 76, "titleBaseline": "middle"}},
"y": {"field": "v", "type": "quantitative", "scale": {"domain": [-2e-5, 1.6e-4], "nice": false, "zero": false},
 "axis": {"values": [-2e-5, 0, 2e-5, 4e-5, 6e-5, 8e-5, 1e-4, 1.2e-4, 1.4e-4, 1.6e-4],
  "domainColor": "black", "tickColor": "black", "tickSize": -5,
  "labelExpr": "datum.value == 0 ? '0.0E+00' : (datum.value < 0 ? '-' : '') + (abs(datum.value) >= 9.99e-5 ? format(abs(datum.value)*1e4, '.1f') + 'E-04' : format(abs(datum.value)*1e5, '.1f') + 'E-05')",
  "labelFont": "Liberation Sans", "labelFontSize": 20, "labelColor": "black", "labelPadding": 25,
  "grid": true, "gridColor": "#6a6a6a",
  "title": "current (A)", "titleFont": "Liberation Sans", "titleFontSize": 21, "titleFontWeight": "bold", "titleColor": "black",
  "titleX": -120, "titleY": 237, "titleBaseline": "middle", "titleAlign": "center"}},
"color": {"field": "s", "type": "nominal", "legend": null,
 "scale": {"domain": ["k","b2","r4","g3","y","r3","c","m","g2","o","p2","tl","gr","lv","p1","b1","g1","r2","r1"],
  "range": ["#333333","#0000FF","#FF2020","#00DD00","#FFFF00","#FF0000","#00FFFF","#800000","#008000","#808000","#800080","#008080","#969696","#8080FF","#804080","#0000FF","#00FF00","#FF0000","#FF0000"]}}
}
},
{
"data": {"name": "curves"},
"transform": [{"filter": {"field": "s", "oneOf": ["k","tl","b1","g1"]}}],
"mark": {"type": "line", "interpolate": "monotone", "clip": true, "strokeWidth": 1.7},
"encoding": {
"x": {"field": "t", "type": "quantitative", "axis": null},
"y": {"field": "v", "type": "quantitative", "axis": null},
"color": {"field": "s", "type": "nominal", "legend": null}
}
},
{
"data": {"name": "curves"},
"transform": [{"filter": {"field": "s", "oneOf": ["r2","r1"]}}],
"mark": {"type": "line", "interpolate": "monotone", "clip": true, "strokeWidth": 3.2},
"encoding": {
"x": {"field": "t", "type": "quantitative", "axis": null},
"y": {"field": "v", "type": "quantitative", "axis": null},
"color": {"field": "s", "type": "nominal", "legend": null}
}
},
{
"data": {"values": [{}]},
"mark": {"type": "rect", "fill": "white", "stroke": "#008000", "strokeWidth": 4},
"encoding": {"x": {"datum": 17.24, "type": "quantitative", "axis": null}, "x2": {"datum": 25.36}, "y": {"datum": 15.25e-5, "type": "quantitative", "axis": null}, "y2": {"datum": 8.2e-5}}
},
{
"data": {"values": [{}]},
"mark": {"type": "rect", "fill": null, "stroke": "#008000", "strokeWidth": 1.5},
"encoding": {"x": {"datum": 17.49, "type": "quantitative", "axis": null}, "x2": {"datum": 25.1}, "y": {"datum": 15.05e-5, "type": "quantitative", "axis": null}, "y2": {"datum": 8.35e-5}}
},
{
"data": {"values": [{}]},
"mark": {"type": "text", "text": ["Neutron", "Pti_cz_d11", "Fn = 5e14 cm-2", "before anneal", "p+ side, RT"],
 "font": "Liberation Sans", "fontSize": 22, "fontWeight": "bold", "align": "left", "baseline": "alphabetic", "lineHeight": 30, "color": "black"},
"encoding": {"x": {"datum": 17.7, "type": "quantitative", "axis": null}, "y": {"datum": 14.16e-5, "type": "quantitative", "axis": null}}
}
]
}
